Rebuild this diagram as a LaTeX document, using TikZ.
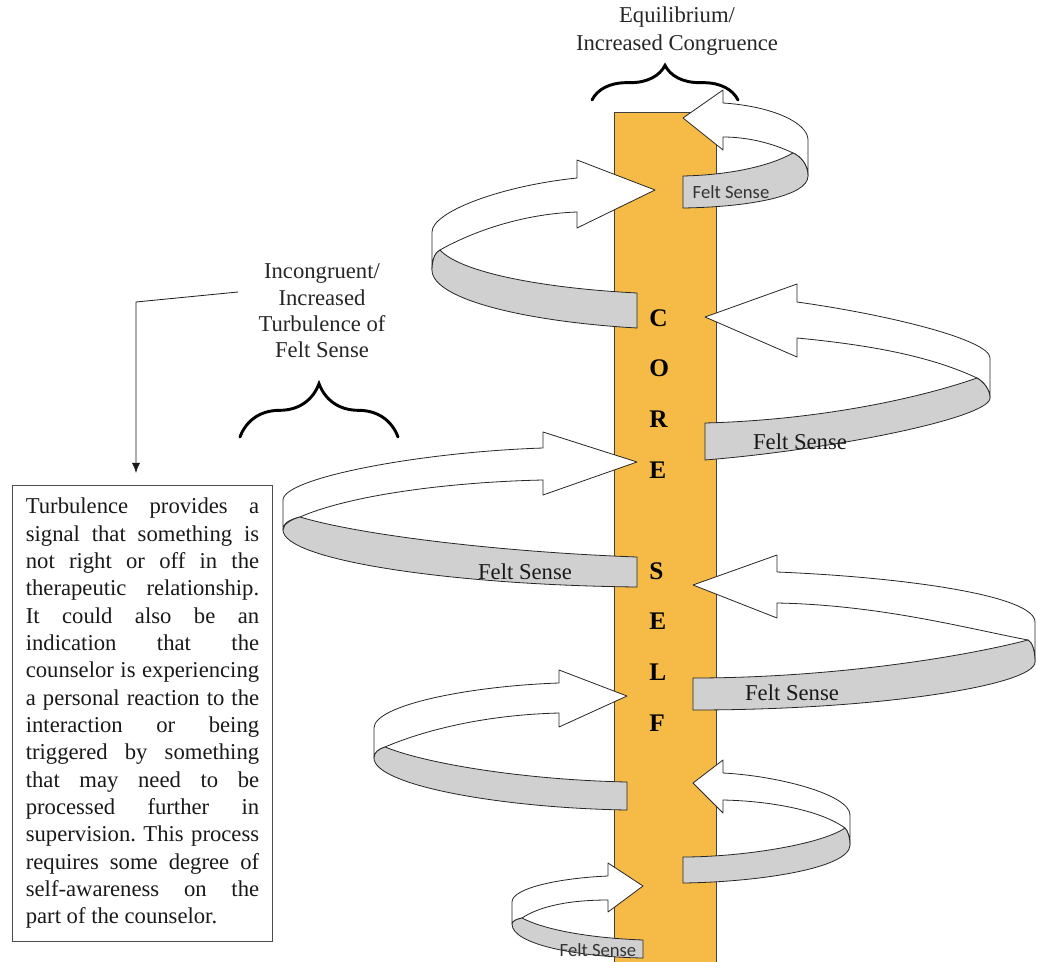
\documentclass[tikz,border=0pt]{standalone}
\usepackage{fontspec}
\setmainfont{Liberation Serif}
\newfontfamily\calibri{Carlito}
\usetikzlibrary{arrows.meta, decorations.pathreplacing}

\definecolor{coreyellow}{RGB}{245,187,70}
\definecolor{bandgray}{RGB}{208,208,208}

\begin{document}
\begin{tikzpicture}[
  x=0.75pt, y=-0.75pt,
  pillar/.style={fill=coreyellow, draw=black!75, line width=0.6pt},
  ribbon/.style={fill=white, draw=black!85, line width=0.6pt, line join=round},
  band/.style={ribbon, fill=bandgray},
  caption/.style={align=center, text=black!85},
  felt/.style={font=\fontsize{17}{20}\selectfont, text=black!90},
  feltsmall/.style={font=\calibri\fontsize{14}{16}\selectfont, text=black!80},
  letter/.style={anchor=west, inner sep=0pt, font=\fontsize{19}{22}\selectfont\bfseries},
  bracket/.style={decorate, decoration={brace, amplitude=#1}, line width=2.2pt, line cap=round},
  callout/.style={-{Latex[length=7.5pt, width=6pt]}, line width=0.6pt, draw=black!90},
  note/.style={draw=black!70, line width=0.8pt, text width=175pt, inner xsep=10pt,
    minimum height=342pt, align=justify, text=black!90,
    font=\fontsize{17}{20.5}\selectfont,
    execute at begin node={\frenchspacing\hyphenpenalty=10000\relax}}
]
\useasboundingbox (0,0) rectangle (1037,962);

% the core
\fill[coreyellow] (614,112) rectangle (716,962);
\draw[pillar, fill=none] (614,962) |- (716,112) -- (716,962);
\foreach \ch [count=\i] in {C,O,R,E,{},S,E,L,F}
  \node[letter] (core\i) at (649, 267.4+50.6*\i) {\ch};

% top coil
\draw[ribbon] (683,118) -- (723,90) -- (723,103) .. controls (770,106) and (808,122) .. (808,140)
  -- (808,176) .. controls (808,164) and (800,156) .. (793,153)
  .. controls (770,142) and (745,137) .. (723,137) -- (723,150) -- cycle;
\draw[band] (793,153) .. controls (800,156) and (808,164) .. (808,176)
  .. controls (808,196) and (750,207) .. (683,208) -- (683,176)
  .. controls (730,175) and (770,166) .. (793,153) -- cycle;

% coil 2, left
\draw[ribbon] (655,190) -- (577,160) -- (577,178) .. controls (500,186) and (432,212) .. (432,232)
  -- (432,270) .. controls (432,258) and (436,252) .. (440,250)
  .. controls (470,233) and (520,214) .. (577,212) -- (577,228) -- cycle;
\draw[band] (440,250) .. controls (436,252) and (432,258) .. (432,270)
  .. controls (432,300) and (530,322) .. (637,328) -- (637,293)
  .. controls (540,288) and (460,272) .. (440,250) -- cycle;

% coil 3, right
\draw[ribbon] (705,317) -- (797,284) -- (797,302) .. controls (890,315) and (990,340) .. (990,358)
  -- (990,398) .. controls (990,390) and (984,382) .. (977,378)
  .. controls (930,356) and (870,345) .. (797,338) -- (797,357) -- cycle;
\draw[band] (977,378) .. controls (984,382) and (990,390) .. (990,398)
  .. controls (990,418) and (830,450) .. (705,460) -- (705,423)
  .. controls (820,420) and (920,398) .. (977,378) -- cycle;

% coil 4, left
\draw[ribbon] (637,462) -- (543,432) -- (543,448) .. controls (420,452) and (283,478) .. (283,500)
  -- (283,530) .. controls (283,522) and (292,519) .. (300,517)
  .. controls (350,495) and (450,482) .. (543,480) -- (543,495) -- cycle;
\draw[band] (300,517) .. controls (292,519) and (283,524) .. (283,530)
  .. controls (283,560) and (450,585) .. (637,587) -- (637,557)
  .. controls (500,552) and (360,535) .. (300,517) -- cycle;

% coil 5, right
\draw[ribbon] (693,585) -- (777,555) -- (777,572) .. controls (900,577) and (1035,595) .. (1035,622)
  -- (1035,662) .. controls (1035,650) and (1032,642) .. (1028,640)
  .. controls (965,628) and (880,605) .. (777,603) -- (777,618) -- cycle;
\draw[band] (1028,640) .. controls (1032,642) and (1035,650) .. (1035,662)
  .. controls (1035,685) and (880,710) .. (693,710) -- (693,678)
  .. controls (820,678) and (950,660) .. (1028,640) -- cycle;

% coil 6, left
\draw[ribbon] (627,696) -- (559,670) -- (559,683) .. controls (470,686) and (374,705) .. (374,728)
  -- (374,758) .. controls (374,752) and (379,749) .. (385,747)
  .. controls (420,732) and (480,715) .. (559,713) -- (559,727) -- cycle;
\draw[band] (385,747) .. controls (379,749) and (374,752) .. (374,758)
  .. controls (374,785) and (500,808) .. (627,810) -- (627,782)
  .. controls (530,780) and (430,765) .. (385,747) -- cycle;

% coil 7, right
\draw[ribbon] (693,783) -- (723,760) -- (723,773) .. controls (780,776) and (850,795) .. (850,815)
  -- (850,845) .. controls (850,838) and (848,831) .. (845,828)
  .. controls (820,810) and (770,801) .. (723,800) -- (723,813) -- cycle;
\draw[band] (845,828) .. controls (848,831) and (850,838) .. (850,845)
  .. controls (850,868) and (760,882) .. (683,883) -- (683,857)
  .. controls (740,857) and (820,845) .. (845,828) -- cycle;

% bottom coil
\draw[ribbon] (643,886) -- (608,863) -- (608,876) .. controls (560,878) and (512,888) .. (512,902)
  -- (512,924) .. controls (512,921) and (517,919) .. (522,918)
  .. controls (540,906) and (570,900) .. (608,900) -- (608,912) -- cycle;
\draw[band] (522,918) .. controls (517,919) and (512,921) .. (512,924)
  .. controls (512,945) and (580,957) .. (643,958) -- (643,940)
  .. controls (590,938) and (545,930) .. (522,918) -- cycle;

% felt sense labels
\node[feltsmall] (fs1) at (731,192) {Felt Sense};
\node[felt] (fs3) at (800,442) {Felt Sense};
\node[felt] (fs4) at (525,572) {Felt Sense};
\node[felt] (fs5) at (792,693) {Felt Sense};
\node[feltsmall] (fs8) at (598,950) {Felt Sense};

% braces and captions
\draw[bracket=26pt] (592,100) -- (738,100);
\draw[bracket=40pt] (240,437) -- (398,437);
\node[caption, font=\fontsize{17}{21}\selectfont] (equil) at (677,31)
  {Equilibrium/\\Increased Congruence};
\node[caption, font=\fontsize{17}{19.7}\selectfont] (incong) at (322,311)
  {Incongruent/\\Increased\\Turbulence of\\Felt Sense};

% note box
\node[note] (note) at (142.5,713.5) {Turbulence provides a\linebreak signal that something is\linebreak
  not right or off in the\linebreak therapeutic relationship.\linebreak It could also be an\linebreak
  indication that the\linebreak counselor is experiencing\linebreak a personal reaction to the\linebreak
  interaction or being\linebreak triggered by something\linebreak that may need to be\linebreak
  processed further in\linebreak supervision. This process\linebreak requires some degree of\linebreak
  self-awareness on the\linebreak part of the counselor.};

\coordinate (lead) at (238,292);
\coordinate (bend) at (136,302);
\draw[callout, shorten >=9pt] (lead) -- (bend) -- (note.north -| bend);
\end{tikzpicture}
\end{document}
